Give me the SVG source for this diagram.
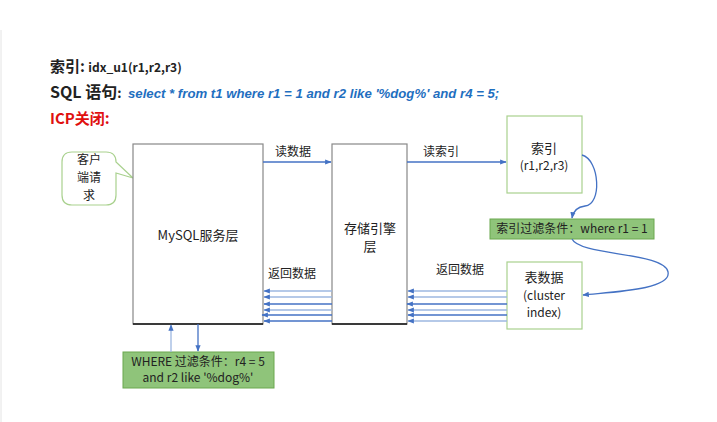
<svg xmlns="http://www.w3.org/2000/svg" width="717" height="422" viewBox="0 0 717 422">
<style>
text{font-family:"Noto Sans CJK SC","Liberation Sans",sans-serif;fill:#222}
.t{font-size:12px}
.box{fill:#fff;stroke:#888;stroke-width:1.2}
.gbox{fill:#fff;stroke:#a9d18e;stroke-width:1.2}
.bar{fill:#8fc47a;stroke:#6aa84f;stroke-width:1}
.la{stroke:#9db7e0;stroke-width:1.3;fill:none}
.da{stroke:#4472c4;stroke-width:1.3;fill:none}
</style>
<defs>
<marker id="ah" viewBox="0 0 10 10" refX="9" refY="5" markerWidth="5" markerHeight="5" orient="auto"><path d="M0,1 L10,5 L0,9 z" fill="#4472c4"/></marker>
</defs>
<rect width="717" height="422" fill="#fff"/>
<line x1="1" y1="30" x2="1" y2="422" stroke="#e4e4e4"/>
<g id="header">
<text x="50" y="72" style="font-size:15px;font-weight:bold">索引: <tspan style="font-size:12px">idx_u1(r1,r2,r3)</tspan></text>
<text x="50" y="98" style="font-size:16px;font-weight:bold">SQL 语句<tspan style="font-size:13px">:</tspan></text>
<text x="128" y="98" style="font-size:13.2px;font-weight:bold;font-style:italic;fill:#1f6fc0;font-family:'Liberation Sans','Noto Sans CJK SC',sans-serif">select * from t1 where r1 = 1 and r2 like '%dog%' and r4 = 5;</text>
<text x="50" y="124" style="font-size:15px;font-weight:bold;fill:#e01010">ICP关闭:</text>
</g>
<g id="client">
<path d="M72,152 H106 Q116,152 116,162 L133,178 L116,173 V195 Q116,205 106,205 H72 Q62,205 62,195 V162 Q62,152 72,152 Z" fill="#fff" stroke="#a9d18e" stroke-width="1.2"/>
<text x="89" y="164" text-anchor="middle" style="font-size:12px">客户</text>
<text x="89" y="182" text-anchor="middle" style="font-size:12px">端请</text>
<text x="89" y="200" text-anchor="middle" style="font-size:12px">求</text>
</g>
<g id="mysql">
<rect x="133" y="144" width="130" height="180" class="box"/>
<line x1="133" y1="324" x2="263" y2="324" stroke="#111" stroke-width="1.5"/>
<text x="198" y="240" text-anchor="middle" style="font-size:13px">MySQL服务层</text>
</g>
<g id="engine">
<rect x="332" y="144" width="75" height="180" class="box"/>
<line x1="332" y1="324" x2="407" y2="324" stroke="#111" stroke-width="1.5"/>
<text x="370" y="233" text-anchor="middle" style="font-size:13px">存储引擎</text>
<text x="370" y="251" text-anchor="middle" style="font-size:13px">层</text>
</g>
<g id="index">
<rect x="507" y="116" width="75" height="77" class="gbox"/>
<text x="544" y="153" text-anchor="middle" style="font-size:13px">索引</text>
<text x="544" y="170" text-anchor="middle" style="font-size:12px">(r1,r2,r3)</text>
</g>
<g id="filter1">
<rect x="490" y="219" width="164" height="20" class="bar"/>
<text x="572" y="233" text-anchor="middle" class="t">索引过滤条件：where r1 = 1</text>
</g>
<g id="table">
<rect x="507" y="262" width="75" height="67" class="gbox"/>
<text x="544" y="282" text-anchor="middle" style="font-size:13px">表数据</text>
<text x="544" y="300" text-anchor="middle" class="t">(cluster</text>
<text x="544" y="317" text-anchor="middle" class="t">index)</text>
</g>
<g id="filter2">
<rect x="123" y="352" width="151" height="36" class="bar"/>
<text x="198" y="366" text-anchor="middle" class="t">WHERE 过滤条件：r4  = 5</text>
<text x="198" y="382" text-anchor="middle" class="t">and r2 like '%dog%'</text>
</g>
<g id="connectors">
<line x1="263" y1="162" x2="331" y2="162" class="da" marker-end="url(#ah)"/>
<text x="275" y="156" class="t">读数据</text>
<line x1="407" y1="162" x2="506" y2="162" class="da" marker-end="url(#ah)"/>
<text x="423" y="156" class="t">读索引</text>
<text x="268" y="278" class="t">返回数据</text>
<text x="436" y="274" class="t">返回数据</text>
<line x1="332" y1="291" x2="264" y2="291" class="la" marker-end="url(#ah)"/>
<line x1="332" y1="297" x2="264" y2="297" class="la" marker-end="url(#ah)"/>
<line x1="332" y1="304" x2="264" y2="304" class="da" marker-end="url(#ah)"/>
<line x1="332" y1="310" x2="264" y2="310" class="la" marker-end="url(#ah)"/>
<line x1="332" y1="315" x2="262" y2="315" class="da" marker-end="url(#ah)"/>
<line x1="332" y1="321" x2="264" y2="321" class="da" marker-end="url(#ah)"/>
<line x1="507" y1="291" x2="408" y2="291" class="la" marker-end="url(#ah)"/>
<line x1="507" y1="297" x2="408" y2="297" class="la" marker-end="url(#ah)"/>
<line x1="507" y1="304" x2="407" y2="304" class="da" marker-end="url(#ah)"/>
<line x1="507" y1="310" x2="408" y2="310" class="la" marker-end="url(#ah)"/>
<line x1="507" y1="315" x2="408" y2="315" class="da" marker-end="url(#ah)"/>
<line x1="507" y1="321" x2="408" y2="321" class="la" marker-end="url(#ah)"/>
<line x1="171" y1="352" x2="171" y2="325" class="la" marker-end="url(#ah)"/>
<line x1="198" y1="324" x2="198" y2="351" class="da" marker-end="url(#ah)"/>
<path d="M582,155 C600,160 602,205 585,206 C576,207 573,212 572,218" class="da" marker-end="url(#ah)"/>
<path d="M572,239 C580,256 665,252 668,272 C672,290 610,292 583,295" class="da" marker-end="url(#ah)"/>
</g>
</svg>
